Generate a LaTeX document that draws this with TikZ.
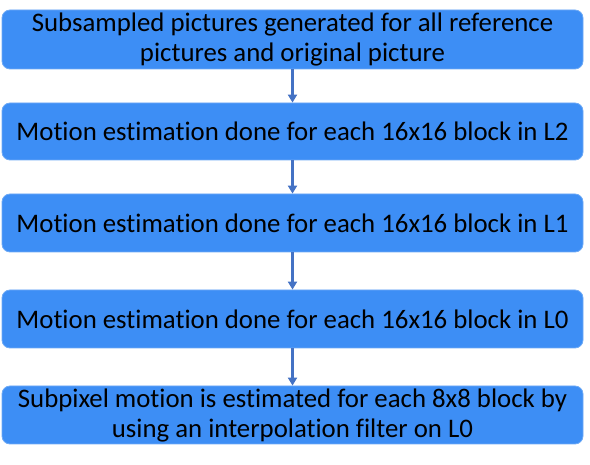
\documentclass[tikz,border=0pt]{standalone}
\usepackage{fontspec}
\setmainfont[Ligatures=CommonOff]{Carlito}
\usetikzlibrary{arrows.meta}
\definecolor{boxfill}{RGB}{61,142,245}
\definecolor{boxline}{RGB}{110,170,245}
\definecolor{arrowc}{RGB}{68,114,196}
\begin{document}
\begin{tikzpicture}[x=1pt,y=1pt,
  stepbox/.style={draw=boxline, line width=0.8pt, fill=boxfill, rounded corners=8pt,
    minimum width=581pt, minimum height=58pt, inner sep=0pt, align=center,
    font=\fontsize{26.8}{30}\selectfont, text=black},
  flow/.style={draw=arrowc, line width=2.6pt, -{Triangle[width=9pt,length=8pt]}}]
\useasboundingbox (0,0) rectangle (590,464);
\node[stepbox, minimum height=59pt] (b1) at (292.5,424.5) {Subsampled pictures generated for all reference\\pictures and original picture};
\node[stepbox, minimum height=57pt] (b2) at (292.5,332.5) {Motion estimation done for each 16x16 block in L2};
\node[stepbox] (b3) at (292.5,241) {Motion estimation done for each 16x16 block in L1};
\node[stepbox] (b4) at (292.5,145) {Motion estimation done for each 16x16 block in L0};
\node[stepbox] (b5) at (292.5,49) {Subpixel motion is estimated for each 8x8 block by\\using an interpolation filter on L0};
\draw[flow] (b1) -- (b2);
\draw[flow] (b2) -- (b3);
\draw[flow] (b3) -- (b4);
\draw[flow] (b4) -- (b5);
\end{tikzpicture}
\end{document}
